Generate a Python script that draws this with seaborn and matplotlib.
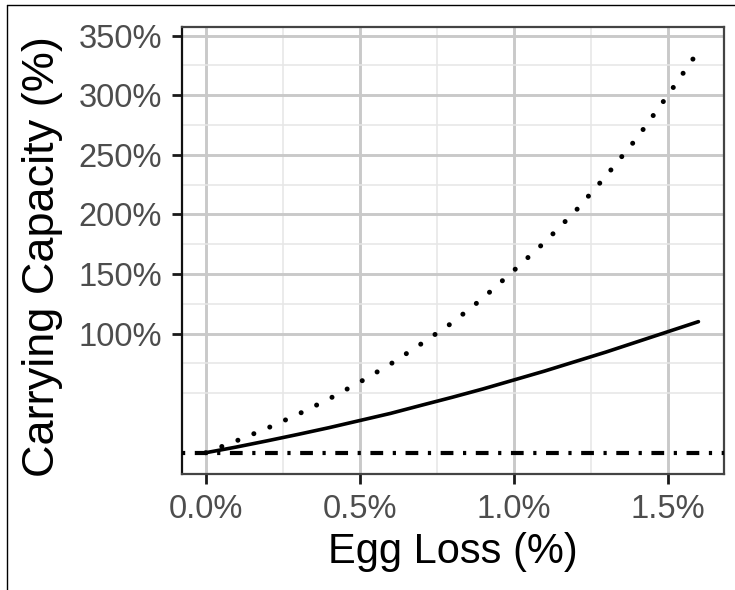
import matplotlib
matplotlib.use("Agg")
import matplotlib.pyplot as plt
from matplotlib.lines import Line2D
import seaborn as sns
import pandas as pd

# ---- data ----
egg_loss = [0.0, 0.1, 0.2, 0.3, 0.4, 0.5, 0.6, 0.7, 0.8, 0.9, 1.0,
            1.1, 1.2, 1.3, 1.4, 1.5, 1.6]
cc_solid = [0.0, 4.8, 10.0, 15.4, 21.0, 27.0, 33.0, 39.8, 46.5, 53.5, 61.0,
            68.5, 76.5, 84.5, 93.0, 101.5, 110.0]
cc_dotted = [0.0, 10.0, 20.6, 32.3, 45.1, 59.2, 74.4, 91.4, 109.0, 129.7, 152.8,
             176.5, 202.6, 232.3, 264.0, 299.7, 337.0]
baseline = 0.0

x_ticks = [0.0, 0.5, 1.0, 1.5]
x_tick_labels = ["0.0%", "0.5%", "1.0%", "1.5%"]
y_ticks = [100, 150, 200, 250, 300, 350]
y_tick_labels = ["100%", "150%", "200%", "250%", "300%", "350%"]
x_minor = [0.25, 0.75, 1.25]
y_minor = [50, 75, 125, 175, 225, 275, 325]

df = pd.DataFrame({"egg_loss": egg_loss, "solid": cc_solid, "dotted": cc_dotted})

sns.set_style("white")
plt.rcParams["font.family"] = ["Liberation Sans", "DejaVu Sans"]

W, H = 735, 590
fig = plt.figure(figsize=(W / 100, H / 100), dpi=100)
left, right, top, bottom = 182.3, 724.0, 26.7, 474.3
ax = fig.add_axes([left / W, 1 - bottom / H, (right - left) / W, (bottom - top) / H])

ax.axhline(baseline, color="black", lw=3.0, linestyle=(0, (0.77, 2.3, 3.06, 2.3)), zorder=3)
sns.lineplot(data=df, x="egg_loss", y="solid", ax=ax, color="black", lw=2.6, zorder=4)
sns.lineplot(data=df, x="egg_loss", y="dotted", ax=ax, color="black", lw=3.6,
             linestyle=(0, (0.01, 3.44)), dash_capstyle="round", zorder=4)

ax.set_xlim(-0.076, 1.683)
ax.set_ylim(-18.1, 357.5)

ax.set_xticks(x_ticks)
ax.set_xticklabels(x_tick_labels)
ax.set_yticks(y_ticks)
ax.set_yticklabels(y_tick_labels)
ax.set_xticks(x_minor, minor=True)
ax.set_yticks(y_minor, minor=True)

ax.set_axisbelow(True)
ax.grid(which="major", color="#c9c9c9", lw=2.1)
ax.grid(which="minor", color="#e6e6e6", lw=1.1)

ax.tick_params(which="major", length=7.5, width=2.0, color="#1a1a1a",
               labelsize=23.5, labelcolor="#4d4d4d", pad=7, direction="out",
               bottom=True, left=True)
ax.tick_params(which="minor", length=0)

for s in ax.spines.values():
    s.set_color("#444444")
    s.set_linewidth(1.6)
ax.spines["left"].set_color("#111111")

ax.set_xlabel("Egg Loss (%)", fontsize=30, color="black", labelpad=5)
ax.set_ylabel("Carrying Capacity (%)", fontsize=32.5, color="black")
ax.yaxis.set_label_coords((63 - left) / (right - left), (bottom - 257) / (bottom - top))

# figure frame lines (left and top)
fig.add_artist(Line2D([7 / W, 7 / W], [0, 1 - 5 / H], transform=fig.transFigure,
                      color="black", lw=1.0))
fig.add_artist(Line2D([7 / W, 1], [1 - 5 / H, 1 - 5 / H], transform=fig.transFigure,
                      color="black", lw=1.0))

fig.savefig("out.png", dpi=100)
